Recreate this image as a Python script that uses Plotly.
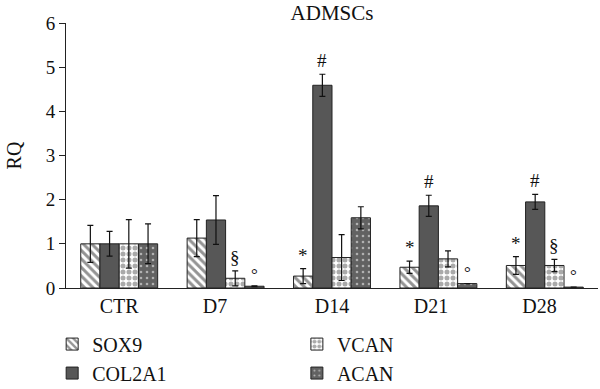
import plotly.graph_objects as go

categories = ["CTR", "D7", "D14", "D21", "D28"]
label_pos = [0.0, 0.9, 2.0, 2.93, 3.95]

sox9 = [1.0, 1.13, 0.27, 0.47, 0.51]
sox9_err = [0.42, 0.42, 0.17, 0.14, 0.20]
col2a1 = [1.0, 1.54, 4.59, 1.86, 1.95]
col2a1_err = [0.28, 0.55, 0.25, 0.24, 0.17]
vcan = [1.0, 0.22, 0.69, 0.66, 0.51]
vcan_err = [0.55, 0.17, 0.52, 0.18, 0.14]
acan = [1.0, 0.04, 1.59, 0.10, 0.02]
acan_err = [0.45, 0.01, 0.25, 0.0, 0.0]

# significance marks per series
sox9_sig = ["", "", "*", "*", "*"]
col2a1_sig = ["", "", "#", "#", "#"]
vcan_sig = ["", "§", "", "", "§"]
acan_sig = ["", "°", "", "°", "°"]

xs = list(range(len(categories)))
FONT = "Liberation Serif"
BARGAP = 0.277

series = [
    ("SOX9", sox9, sox9_err, sox9_sig, dict(color="white", pattern=dict(shape="\\", fgcolor="#2a2a2a", bgcolor="white", size=6, solidity=0.5)), "legend"),
    ("COL2A1", col2a1, col2a1_err, col2a1_sig, dict(color="#575757"), "legend"),
    ("VCAN", vcan, vcan_err, vcan_sig, dict(color="white", pattern=dict(shape=".", fgcolor="#555555", bgcolor="white", size=6, solidity=0.55)), "legend2"),
    ("ACAN", acan, acan_err, acan_sig, dict(color="#6a6a6a", pattern=dict(shape=".", fgcolor="white", bgcolor="#626262", size=6, solidity=0.15)), "legend2"),
]

fig = go.Figure()
n = len(series)
bw = (1 - BARGAP) / n
annotations = []
for i, (name, vals, errs, sigs, marker, leg) in enumerate(series):
    m = dict(marker)
    m["line"] = dict(color="#222222", width=1)
    fig.add_trace(go.Bar(
        x=xs, y=vals, name=name, marker=m, legend=leg,
        error_y=dict(type="data", array=errs, color="#111111", thickness=1.2, width=3),
    ))
    off = (i - (n - 1) / 2) * bw
    for xi, v, e, s in zip(xs, vals, errs, sigs):
        if s:
            annotations.append(dict(
                x=xi + off, y=v + e, text=s, showarrow=False, xref="x", yref="y",
                yanchor="bottom", yshift=1 if s != "°" else 0,
                font=dict(family=FONT, size=19 if s != "°" else 17, color="#111111"),
            ))

legfont = dict(family=FONT, size=20, color="#111111")
fig.update_layout(
    width=600, height=389,
    margin=dict(l=66, r=2, t=23, b=101, autoexpand=False),
    paper_bgcolor="white", plot_bgcolor="white",
    barmode="group", bargap=BARGAP, bargroupgap=0,
    font=dict(family=FONT, size=16, color="#111111"),
    title=dict(text="ADMSCs", x=0.5, xref="paper", xanchor="center", y=0.967, yanchor="middle",
               font=dict(family=FONT, size=21, color="#111111")),
    xaxis=dict(range=[-0.5, 4.5], tickvals=label_pos, ticktext=categories, showline=True,
               linecolor="#222222", linewidth=1, ticks="", showgrid=False, zeroline=False,
               tickfont=dict(family=FONT, size=20)),
    yaxis=dict(range=[0, 6], dtick=1, showline=True, linecolor="#222222", linewidth=1,
               ticks="outside", ticklen=6, tickcolor="#222222", showgrid=False, zeroline=False,
               tickfont=dict(family=FONT, size=19),
               title=dict(text="RQ", font=dict(family=FONT, size=20), standoff=18)),
    legend=dict(orientation="v", x=-0.026, xanchor="left", y=-0.138, yanchor="top",
                font=legfont, itemwidth=30, bgcolor="rgba(0,0,0,0)", tracegroupgap=0),
    legend2=dict(orientation="v", x=0.434, xanchor="left", y=-0.138, yanchor="top",
                 font=legfont, itemwidth=30, bgcolor="rgba(0,0,0,0)", tracegroupgap=0),
    annotations=annotations,
)

fig.write_html("out.html", config={"displayModeBar": False},
               post_script="document.body.style.margin='0';document.body.style.overflow='hidden';")
